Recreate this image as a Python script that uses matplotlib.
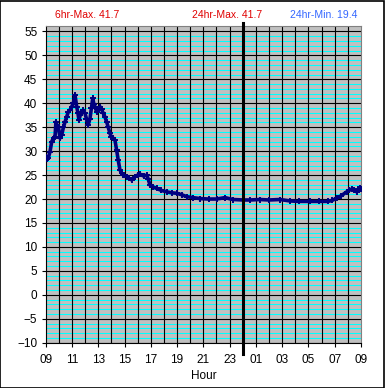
import matplotlib.pyplot as plt
from matplotlib.patches import Rectangle
import numpy as np

plt.rcParams['font.family'] = ['Liberation Sans', 'DejaVu Sans']

# hours after 09:00 and temperature
hours = [0.0, 0.1, 0.2, 0.33, 0.46, 0.6, 0.71, 0.78, 0.87, 0.96, 1.09, 1.22,
         1.35, 1.47, 1.6, 1.72, 1.85, 1.98, 2.1, 2.23, 2.36, 2.45, 2.53, 2.64,
         2.74, 2.87, 2.99, 3.1, 3.24, 3.37, 3.48, 3.58, 3.67, 3.75, 3.88, 4.0,
         4.13, 4.25, 4.38, 4.5, 4.64, 4.76, 4.89, 5.0, 5.14, 5.27, 5.4, 5.52,
         5.65, 5.78, 5.91, 6.16, 6.35, 6.54, 6.8, 7.0, 7.18, 7.45, 7.69, 7.8,
         7.94, 8.2, 8.45, 8.8, 9.21, 9.6, 9.97, 10.35, 10.73, 11.2, 11.74,
         12.4, 13.01, 13.65, 14.25, 15.04, 15.55, 16.3, 17.0, 17.83, 18.59,
         19.3, 20.1, 20.8, 21.48, 21.8, 22.15, 22.5, 22.91, 23.1, 23.29, 23.5,
         23.67, 23.8, 23.92, 24.0]
temps = [28.8, 28.4, 28.6, 29.9, 32.0, 32.8, 33.0, 36.1, 35.4, 35.1, 32.7, 33.4,
         35.0, 36.1, 37.2, 38.2, 38.6, 39.3, 40.0, 41.7, 39.3, 38.0, 36.5, 37.6,
         38.2, 38.5, 37.9, 36.8, 35.5, 36.8, 39.0, 41.0, 39.8, 39.3, 38.2, 38.6,
         39.3, 38.8, 37.9, 37.2, 36.1, 35.0, 33.7, 32.9, 32.7, 32.3, 30.2, 28.1,
         26.1, 25.4, 25.0, 24.7, 24.3, 24.0, 24.7, 25.0, 25.2, 24.8, 25.0, 24.2,
         22.9, 22.5, 22.2, 21.8, 21.5, 21.3, 21.2, 20.9, 20.5, 20.3, 20.1,
         20.0, 20.0, 20.3, 19.9, 19.8, 19.8, 19.9, 19.8, 19.9, 19.6,
         19.5, 19.5, 19.5, 19.5, 19.7, 20.2, 20.7, 21.5, 21.8, 22.1, 21.9,
         21.5, 22.0, 22.4, 22.0]

xtick_pos = list(range(0, 25, 2))
xtick_labels = ['09', '11', '13', '15', '17', '19', '21', '23', '01', '03', '05', '07', '09']
yticks = list(range(-10, 56, 5))

fig = plt.figure(figsize=(3.85, 3.88), dpi=100)
ax = fig.add_axes([0.1187, 0.1168, 0.819, 0.8170])
ax.set_facecolor('#c0c0c0')

# gridlines: cyan every degree, black every 5, black every hour
for v in range(-9, 56):
    if v % 5 != 0:
        ax.axhline(v, color='#00ffff', lw=0.75, zorder=1)
for v in yticks:
    ax.axhline(v, color='black', lw=0.8, zorder=1.5)
for h in range(1, 24):
    ax.axvline(h, color='black', lw=0.8, zorder=1.5)

ax.plot(hours, temps, color='#000080', lw=2.6, marker='+', ms=4, mew=1.4, zorder=3)

# midnight marker
ax.plot([15, 15], [-12.3, 56.7], color='black', lw=2.2, clip_on=False, zorder=4)

ax.set_xlim(0, 24)
ax.set_ylim(-10, 56.2)
ax.set_xticks(xtick_pos)
ax.set_xticklabels(xtick_labels)
ax.set_yticks(yticks)
ax.tick_params(axis='both', direction='out', length=3, width=0.8, labelsize=8.5, colors='black')
ax.tick_params(axis='y', pad=3)
ax.tick_params(axis='x', pad=5)
for s in ['left', 'bottom']:
    ax.spines[s].set_color('black')
    ax.spines[s].set_linewidth(0.8)
for s in ['top', 'right']:
    ax.spines[s].set_color('#808080')
    ax.spines[s].set_linewidth(0.8)

ax.set_xlabel('Hour', fontsize=8.5, labelpad=3)

fig.text(87 / 385, 1 - 15 / 388, '6hr-Max. 41.7', color='#e00000', fontsize=7.5, ha='center', va='center')
fig.text(227 / 385, 1 - 15 / 388, '24hr-Max. 41.7', color='#e00000', fontsize=7.5, ha='center', va='center')
fig.text(324 / 385, 1 - 15 / 388, '24hr-Min. 19.4', color='#3366ff', fontsize=7.5, ha='center', va='center')

fig.patches.append(Rectangle((0.001, 0.001), 0.997, 0.997, transform=fig.transFigure,
                             fill=False, edgecolor='black', lw=1.2))

fig.savefig('out.png', dpi=100)
plt.close(fig)
